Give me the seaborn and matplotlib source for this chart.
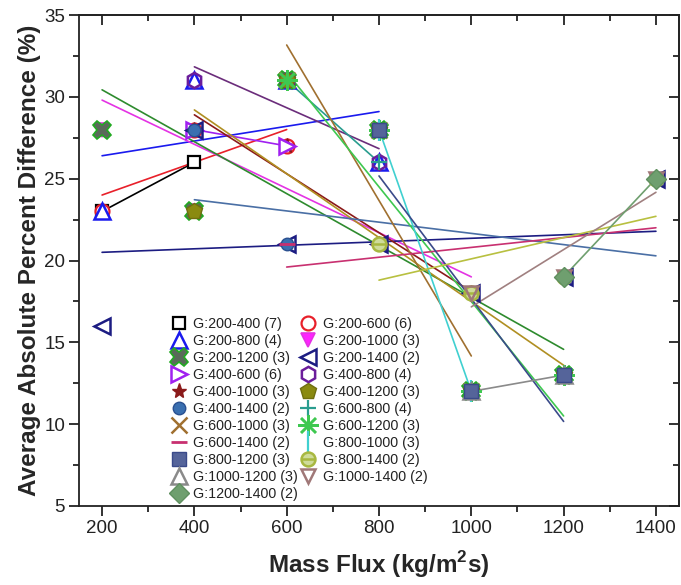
import numpy as np
import matplotlib
matplotlib.use("Agg")
import matplotlib.pyplot as plt
from matplotlib.lines import Line2D
from matplotlib.path import Path
from matplotlib.ticker import MultipleLocator
import seaborn as sns

# ---------------- data ----------------
series_labels = [
    "G:200-400 (7)", "G:200-600 (6)", "G:200-800 (4)", "G:200-1000 (3)",
    "G:200-1200 (3)", "G:200-1400 (2)", "G:400-600 (6)", "G:400-800 (4)",
    "G:400-1000 (3)", "G:400-1200 (3)", "G:400-1400 (2)", "G:600-800 (4)",
    "G:600-1000 (3)", "G:600-1200 (3)", "G:600-1400 (2)", "G:800-1000 (3)",
    "G:800-1200 (3)", "G:800-1400 (2)", "G:1000-1200 (3)", "G:1000-1400 (2)",
    "G:1200-1400 (2)",
]
series_x = [
    [200, 400], [200, 400, 600], [200, 400, 600, 800],
    [200, 400, 600, 800, 1000], [200, 400, 600, 800, 1000, 1200],
    [200, 400, 600, 800, 1000, 1200, 1400], [400, 600], [400, 600, 800],
    [400, 600, 800, 1000], [400, 600, 800, 1000, 1200],
    [400, 600, 800, 1000, 1200, 1400], [600, 800], [600, 800, 1000],
    [600, 800, 1000, 1200], [600, 800, 1000, 1200, 1400], [800, 1000],
    [800, 1000, 1200], [800, 1000, 1200, 1400], [1000, 1200],
    [1000, 1200, 1400], [1200, 1400],
]
series_y = [
    [23, 26], [23, 28, 27], [23, 31, 31, 26],
    [28, 23, 31, 28, 12], [28, 23, 31, 28, 12, 13],
    [16, 28, 21, 21, 18, 19, 25], [28, 27], [31, 31, 26],
    [28, 27, 21, 18], [23, 31, 28, 12, 13],
    [28, 21, 21, 18, 19, 25], [31, 26], [31, 28, 12],
    [31, 28, 12, 13], [21, 21, 18, 19, 25], [28, 12],
    [28, 12, 13], [21, 18, 19, 25], [12, 13],
    [18, 19, 25], [19, 25],
]

# ---------------- styles ----------------
circ_bar = Path.make_compound_path(Path.unit_circle(), Path([[-1, 0], [1, 0]]))
asterisk = (8, 2, 0)
colors = [
    "#000000", "#e8202a", "#1a1aee", "#e433e4", "#2e8b2e", "#1c1c82",
    "#a020f0", "#6b2d7b", "#8b1a1a", "#b08f22", "#4a6fa5", "#2a9d8f",
    "#a07030", "#3ec850", "#c83070", "#40d0d0", "#3a4a8a", "#b8c040",
    "#8a8a8a", "#a08080", "#6f9f6f",
]
marker_styles = [
    dict(marker="s", ms=9, mfc="white", mec="#000000", mew=1.6),
    dict(marker="o", ms=10, mfc="white", mec="#e8202a", mew=1.6),
    dict(marker="^", ms=11, mfc="white", mec="#1a1aee", mew=1.8),
    dict(marker="v", ms=10, mfc="#ff22ff", mec="#e433e4", mew=1.2),
    dict(marker="X", ms=13, mfc="#5a6a5a", mec="#22aa22", mew=1.2),
    dict(marker="<", ms=11, mfc="none", mec="#1c1c82", mew=1.8),
    dict(marker=">", ms=11, mfc="white", mec="#a020f0", mew=1.8),
    dict(marker="h", ms=11, mfc="none", mec="#6b1d9b", mew=1.8),
    dict(marker="*", ms=11, mfc="#8b1a1a", mec="#8b1a1a", mew=1.0),
    dict(marker="p", ms=12, mfc="#8a8a10", mec="#6f6f10", mew=1.0),
    dict(marker="o", ms=9, mfc="#3a6fb0", mec="#2a5090", mew=1.0),
    dict(marker="+", ms=12, mfc="none", mec="#2a9d8f", mew=1.6),
    dict(marker="x", ms=11, mfc="none", mec="#a07030", mew=1.8),
    dict(marker=asterisk, ms=15, mfc="none", mec="#3ec850", mew=1.8),
    dict(marker="_", ms=12, mfc="none", mec="#c83070", mew=2.0),
    dict(marker="|", ms=16, mfc="none", mec="#40d0d0", mew=1.6),
    dict(marker="s", ms=10, mfc="#55649a", mec="#3a4a8a", mew=1.0),
    dict(marker=circ_bar, ms=10, mfc="#cfdc9a", mec="#a8b840", mew=1.8),
    dict(marker="^", ms=11, mfc="none", mec="#8a8a8a", mew=1.8),
    dict(marker="v", ms=10, mfc="none", mec="#a07878", mew=1.8),
    dict(marker="D", ms=10, mfc="#6f9f6f", mec="#5f8f5f", mew=1.0),
]
marker_z = [3.00, 3.01, 3.02, 3.03, 3.04, 3.095, 3.085, 3.07, 3.08, 3.09,
            3.10, 3.11, 3.12, 3.13, 3.14, 3.15, 3.17, 3.18, 3.155, 3.19, 3.20]

sns.set_theme(style="ticks")
plt.rcParams["font.family"] = ["Liberation Sans", "DejaVu Sans"]
plt.rcParams["mathtext.fontset"] = "custom"
plt.rcParams["mathtext.rm"] = "Liberation Sans"
plt.rcParams["mathtext.bf"] = "Liberation Sans:bold"

fig = plt.figure(figsize=(6.81, 5.85), dpi=100)
ax = fig.add_axes([79 / 681, 1 - 506 / 585, 600 / 681, 491 / 585])

# fit lines (linear regression through each series' points)
for xs, ys, c in zip(series_x, series_y, colors):
    sns.regplot(x=np.array(xs, float), y=np.array(ys, float), ax=ax,
                scatter=False, ci=None, truncate=True,
                line_kws=dict(color=c, lw=1.2, zorder=2))

# markers
for i, (xs, ys) in enumerate(zip(series_x, series_y)):
    ax.plot(xs, ys, linestyle="none", zorder=marker_z[i], **marker_styles[i])

ax.set_xlim(150, 1450)
ax.set_ylim(5, 35)
ax.xaxis.set_major_locator(MultipleLocator(200))
ax.xaxis.set_minor_locator(MultipleLocator(100))
ax.yaxis.set_major_locator(MultipleLocator(5))
ax.yaxis.set_minor_locator(MultipleLocator(2.5))
ax.tick_params(which="major", direction="out", length=7, width=1.3,
               labelsize=13.5, colors="#222222", pad=3)
ax.tick_params(which="minor", direction="out", length=4, width=1.3,
               colors="#222222")
for s in ax.spines.values():
    s.set_visible(True)
    s.set_linewidth(1.3)
    s.set_color("#222222")

topax = ax.secondary_xaxis("top")
topax.xaxis.set_major_locator(MultipleLocator(200))
topax.xaxis.set_minor_locator(MultipleLocator(100))
topax.tick_params(which="major", direction="in", length=7, width=1.3,
                  labeltop=False, colors="#222222")
topax.tick_params(which="minor", direction="in", length=4, width=1.3,
                  colors="#222222")
rightax = ax.secondary_yaxis("right")
rightax.yaxis.set_major_locator(MultipleLocator(5))
rightax.yaxis.set_minor_locator(MultipleLocator(2.5))
rightax.tick_params(which="major", direction="in", length=7, width=1.3,
                    labelright=False, colors="#222222")
rightax.tick_params(which="minor", direction="in", length=4, width=1.3,
                    colors="#222222")

ax.set_xlabel(r"Mass Flux (kg/m$^\mathbf{2}$s)", fontsize=17.5,
              fontweight="bold", labelpad=9)
ax.set_ylabel("Average Absolute Percent Difference (%)", fontsize=17.5,
              fontweight="bold", labelpad=2)

handles = [Line2D([], [], linestyle="none", **marker_styles[i])
           for i in range(len(series_labels))]
order = list(range(0, 21, 2)) + list(range(1, 21, 2))
leg = ax.legend([handles[i] for i in order], [series_labels[i] for i in order],
                ncol=2, loc="upper left", bbox_to_anchor=(0.155, 0.385),
                frameon=False, fontsize=10.3, handlelength=1.0,
                handletextpad=0.5, columnspacing=0.2, labelspacing=0.21,
                borderpad=0.0, borderaxespad=0.0)
for t in leg.get_texts():
    t.set_color("#222222")

fig.savefig("out.png", dpi=100)
